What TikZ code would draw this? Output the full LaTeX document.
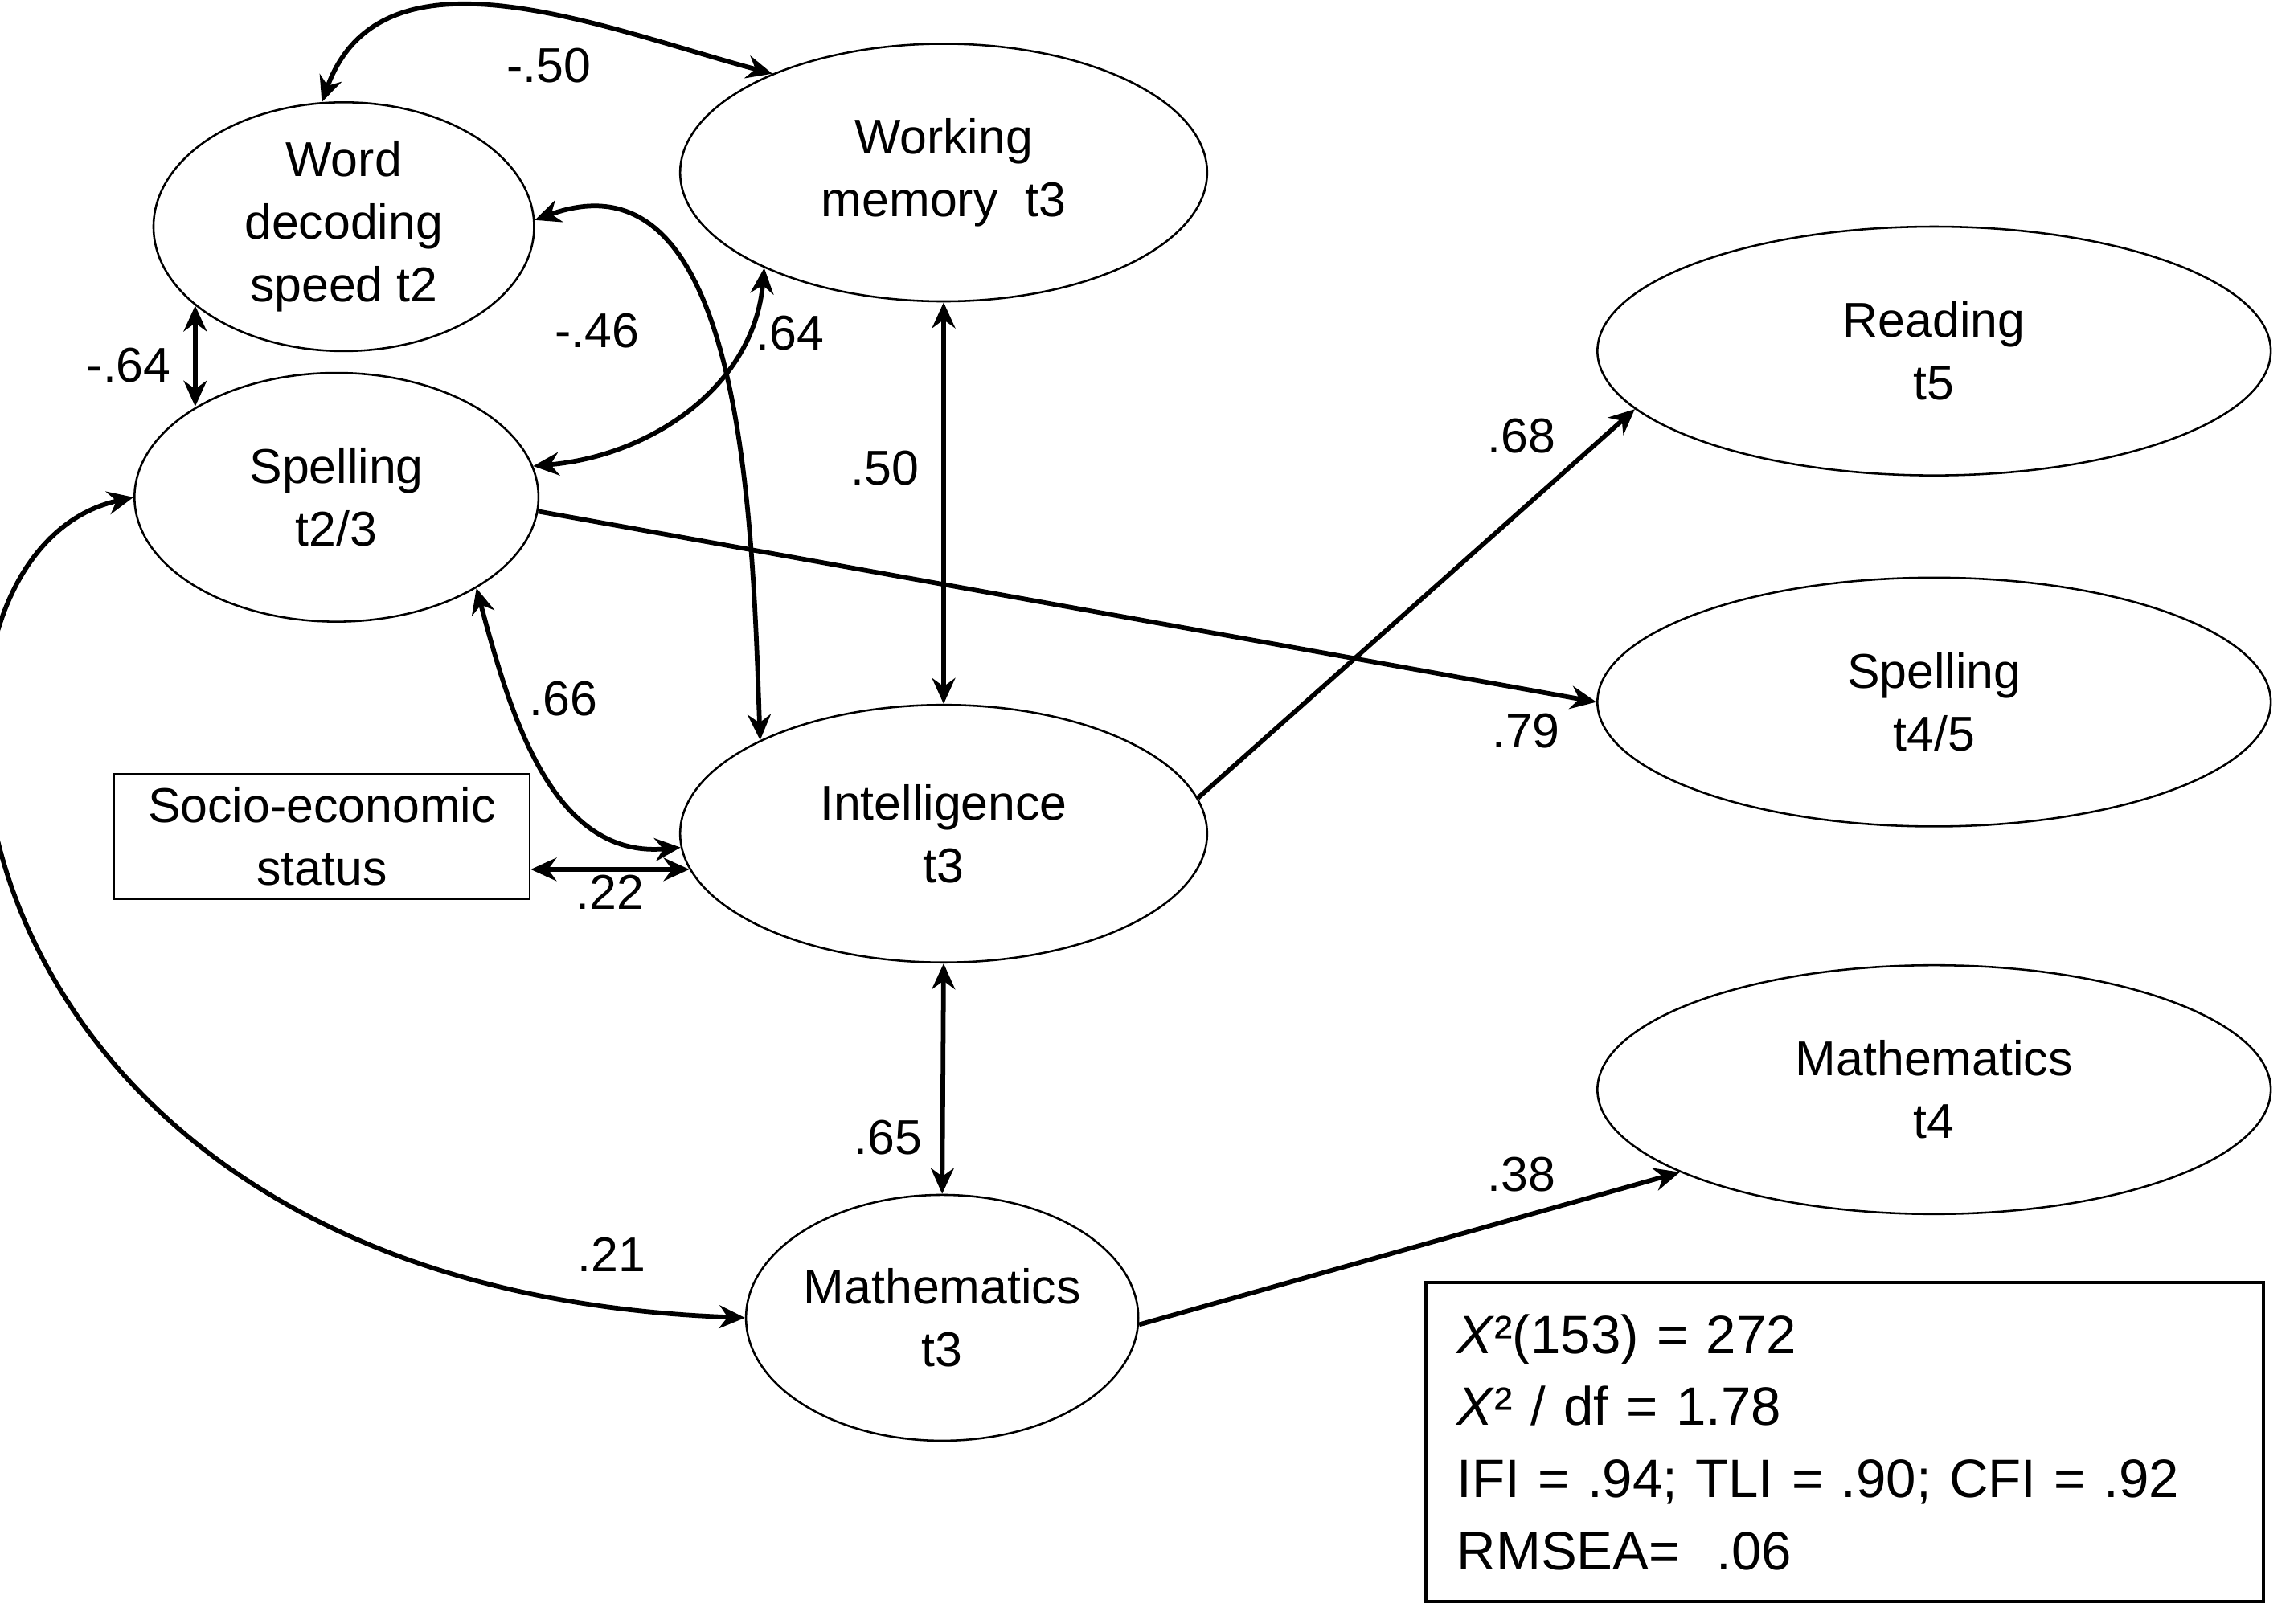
\documentclass[tikz,border=0pt]{standalone}
\usepackage{fontspec}
\setmainfont{Liberation Sans}
\usetikzlibrary{shapes.geometric,arrows.meta}
\begin{document}
\begin{tikzpicture}[x=0.01cm,y=-0.01cm,
  every node/.style={font=\fontsize{9.5}{12.2}\selectfont},
  lv/.style={draw,ellipse,line width=0.4pt,align=center,inner sep=0pt},
  ar/.style={line width=0.9pt,-{Stealth[length=5pt,width=4.5pt]}},
  dar/.style={line width=0.9pt,{Stealth[length=5pt,width=4.5pt]}-{Stealth[length=5pt,width=4.5pt]}},
  lb/.style={inner sep=0pt}]
\useasboundingbox (0,0) rectangle (1568,1110);
\node[lv,minimum width=2.6cm,minimum height=1.7cm] (wd) at (235,155) {Word\\decoding\\speed t2};
\node[lv,minimum width=3.6cm,minimum height=1.76cm] (wm) at (645,118) {Working\\memory\ \ t3};
\node[lv,minimum width=4.6cm,minimum height=1.7cm] (rd) at (1322,240) {Reading\\t5};
\node[lv,minimum width=2.76cm,minimum height=1.7cm] (sp) at (230,340) {Spelling\\t2/3};
\node[lv,minimum width=4.6cm,minimum height=1.7cm] (sp45) at (1322,480) {Spelling\\t4/5};
\node[lv,minimum width=3.6cm,minimum height=1.76cm] (int) at (645,570) {Intelligence\\t3};
\node[draw,line width=0.4pt,minimum width=2.84cm,minimum height=0.85cm,align=center,inner sep=0pt] (ses) at (220,572) {Socio-economic\\status};
\node[lv,minimum width=4.6cm,minimum height=1.7cm] (m4) at (1322,745) {Mathematics\\t4};
\node[lv,minimum width=2.68cm,minimum height=1.68cm] (m3) at (644,901) {Mathematics\\t3};
\node[draw,line width=0.6pt,minimum width=5.52cm,minimum height=2.18cm,align=left,text width=5.3cm,inner sep=6pt,font=\fontsize{10.5}{14}\selectfont] (fit) at (1261,986)
 {\textit{X}²(153) = 272\\\textit{X}² / df = 1.78\\IFI = .94; TLI = .90; CFI = .92\\RMSEA=\ \ .06};

\draw[dar] (wd.100) to[out=70,in=165] (wm.150);
\node[lb] (l1) at (375,45) {-.50};
\draw[dar] (wd.208) -- (wd.208 |- sp.147);
\node[lb] (l2) at (88,250) {-.64};
\draw[dar] (wm.208) to[out=265,in=5] (sp.9);
\node[lb] (l3) at (540,228) {.64};
\draw[dar] (wd.2) to[out=20,in=92] (int.153);
\node[lb] (l4) at (408,226) {-.46};
\draw[dar] (wm.south) -- (int.north);
\node[lb] (l5) at (605,320) {.50};
\draw[ar] (sp.-4) -- (sp45.west);
\node[lb] (l6) at (1043,500) {.79};
\draw[ar] (int.8) -- (rd.191);
\node[lb] (l7) at (1040,298) {.68};
\draw[dar] (sp.-33) to[out=-75,in=185] (int.183);
\node[lb] (l8) at (385,478) {.66};
\draw[dar] (ses.east |- int.188) -- (int.188);
\node[lb] (l9) at (417,610) {.22};
\draw[dar] (int.south) -- (m3.north);
\node[lb] (l10) at (607,778) {.65};
\draw[dar] (sp.west) .. controls (-90,380) and (-60,880) .. (m3.west);
\node[lb] (l11) at (418,858) {.21};
\draw[ar] (m3.-2) -- (m4.198);
\node[lb] (l12) at (1040,803) {.38};
\end{tikzpicture}
\end{document}
